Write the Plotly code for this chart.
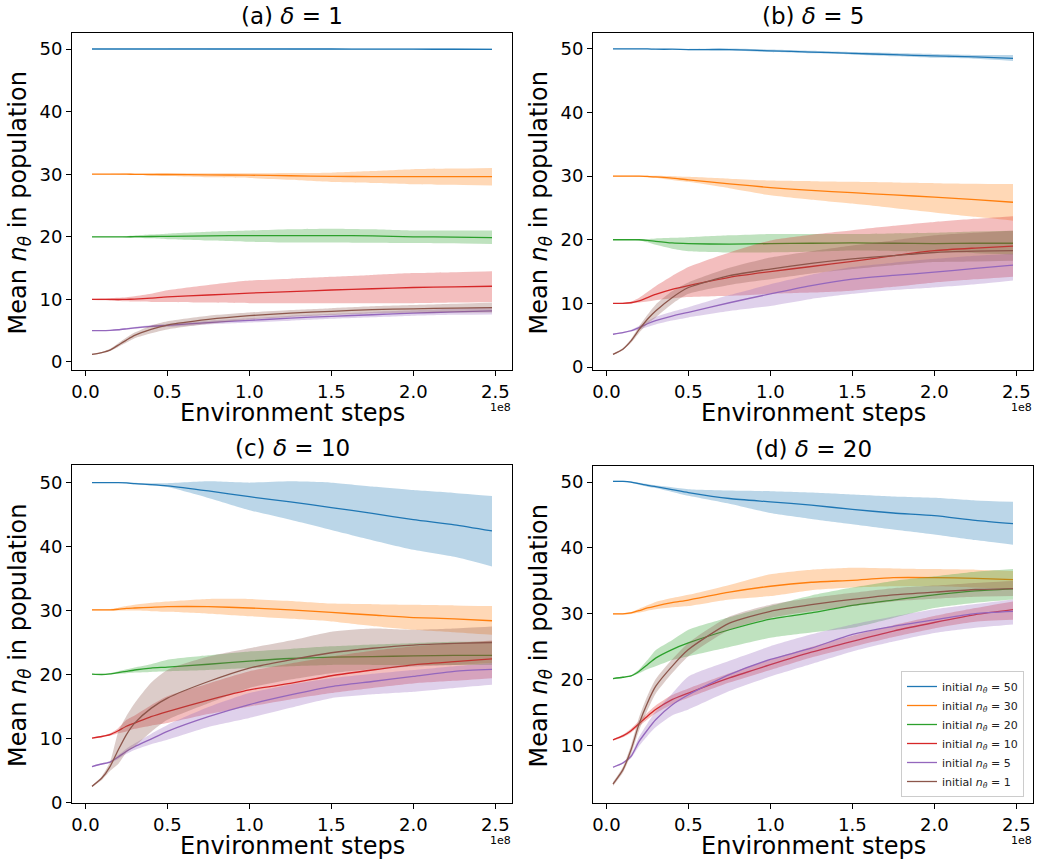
import plotly.graph_objects as go

# ---------------- data ----------------
STEPS = [0.04e8, 0.10e8, 0.15e8, 0.20e8, 0.25e8, 0.30e8, 0.40e8, 0.50e8,
         0.75e8, 1.00e8, 1.25e8, 1.50e8, 1.75e8, 2.00e8, 2.25e8, 2.48e8]

SERIES_LABELS = ["initial <i>n</i><sub><i>θ</i></sub> = 50", "initial <i>n</i><sub><i>θ</i></sub> = 30",
                 "initial <i>n</i><sub><i>θ</i></sub> = 20", "initial <i>n</i><sub><i>θ</i></sub> = 10",
                 "initial <i>n</i><sub><i>θ</i></sub> = 5", "initial <i>n</i><sub><i>θ</i></sub> = 1"]
COLORS = ["#1f77b4", "#ff7f0e", "#2ca02c", "#d62728", "#9467bd", "#8c564b"]
PANEL_TITLES = ["(a) <i>δ</i> = 1", "(b) <i>δ</i> = 5", "(c) <i>δ</i> = 10", "(d) <i>δ</i> = 20"]

# ---- panel (a) delta = 1 ----
a_n50_mean = [50.0, 50.0, 50.0, 50.0, 50.0, 50.0, 50.0, 50.0, 50.0, 50.0, 50.0, 50.0, 49.98, 49.97, 49.96, 49.95]
a_n50_lo   = [49.95, 49.95, 49.95, 49.95, 49.95, 49.95, 49.95, 49.95, 49.93, 49.92, 49.9, 49.9, 49.88, 49.87, 49.86, 49.85]
a_n50_hi   = [50.05, 50.05, 50.05, 50.05, 50.05, 50.05, 50.05, 50.05, 50.07, 50.08, 50.08, 50.08, 50.08, 50.08, 50.09, 50.1]
a_n30_mean = [30.0, 30.0, 30.0, 30.0, 30.0, 29.98, 29.95, 29.95, 29.9, 29.85, 29.75, 29.66, 29.62, 29.6, 29.6, 29.6]
a_n30_lo   = [29.95, 29.95, 29.95, 29.93, 29.9, 29.88, 29.8, 29.7, 29.5, 29.4, 29.1, 28.75, 28.6, 28.4, 28.3, 28.2]
a_n30_hi   = [30.05, 30.05, 30.05, 30.07, 30.1, 30.1, 30.12, 30.15, 30.15, 30.15, 30.2, 30.25, 30.5, 30.8, 30.9, 31.0]
a_n20_mean = [20.0, 20.0, 20.0, 20.0, 20.0, 20.02, 20.05, 20.07, 20.15, 20.2, 20.2, 20.2, 20.15, 20.0, 19.95, 19.86]
a_n20_lo   = [19.95, 19.95, 19.95, 19.95, 19.9, 19.85, 19.75, 19.6, 19.4, 19.2, 19.1, 19.1, 19.05, 19.0, 18.95, 18.85]
a_n20_hi   = [20.05, 20.05, 20.05, 20.05, 20.1, 20.2, 20.35, 20.5, 20.8, 21.0, 21.2, 21.3, 21.2, 21.0, 21.0, 21.0]
a_n10_mean = [10.0, 10.0, 10.0, 9.98, 10.0, 10.05, 10.2, 10.4, 10.7, 11.0, 11.25, 11.5, 11.7, 11.9, 12.0, 12.1]
a_n10_lo   = [9.9, 9.85, 9.8, 9.75, 9.7, 9.65, 9.6, 9.6, 9.5, 9.4, 9.4, 9.4, 9.4, 9.4, 9.5, 9.6]
a_n10_hi   = [10.1, 10.15, 10.2, 10.25, 10.35, 10.5, 10.9, 11.45, 12.3, 13.0, 13.3, 13.6, 13.9, 14.2, 14.35, 14.5]
a_n5_mean  = [5.0, 5.0, 5.05, 5.15, 5.3, 5.45, 5.7, 5.85, 6.3, 6.65, 7.0, 7.3, 7.55, 7.8, 8.0, 8.15]
a_n5_lo    = [4.95, 4.95, 5.0, 5.05, 5.15, 5.3, 5.5, 5.6, 6.0, 6.3, 6.6, 6.9, 7.15, 7.4, 7.55, 7.6]
a_n5_hi    = [5.05, 5.05, 5.1, 5.25, 5.45, 5.6, 5.9, 6.1, 6.6, 7.0, 7.4, 7.7, 8.0, 8.25, 8.55, 8.8]
a_n1_mean  = [1.2, 1.5, 1.9, 2.7, 3.5, 4.25, 5.2, 5.9, 6.8, 7.4, 7.8, 8.1, 8.35, 8.5, 8.6, 8.7]
a_n1_lo    = [1.1, 1.4, 1.75, 2.4, 3.1, 3.8, 4.6, 5.2, 6.1, 6.8, 7.2, 7.5, 7.75, 7.85, 7.9, 7.9]
a_n1_hi    = [1.3, 1.6, 2.1, 3.0, 3.9, 4.7, 5.8, 6.5, 7.4, 7.9, 8.3, 8.6, 8.9, 9.1, 9.3, 9.5]

# ---- panel (b) delta = 5 ----
b_n50_mean = [50.0, 50.0, 50.0, 50.0, 50.0, 49.95, 49.95, 49.9, 49.9, 49.7, 49.5, 49.3, 49.1, 48.9, 48.75, 48.5]
b_n50_lo   = [49.95, 49.95, 49.95, 49.95, 49.95, 49.9, 49.85, 49.8, 49.75, 49.5, 49.3, 49.1, 48.85, 48.6, 48.45, 48.1]
b_n50_hi   = [50.05, 50.05, 50.05, 50.05, 50.05, 50.0, 50.0, 50.0, 50.05, 49.9, 49.7, 49.5, 49.35, 49.2, 49.05, 49.05]
b_n30_mean = [30.0, 30.0, 30.0, 30.0, 29.95, 29.9, 29.7, 29.4, 28.8, 28.2, 27.75, 27.4, 27.05, 26.7, 26.3, 25.9]
b_n30_lo   = [29.95, 29.95, 29.95, 29.9, 29.8, 29.7, 29.4, 29.1, 28.1, 27.0, 26.3, 25.7, 25.0, 24.3, 23.6, 23.0]
b_n30_hi   = [30.05, 30.05, 30.05, 30.05, 30.05, 30.05, 30.0, 29.9, 29.6, 29.3, 29.2, 29.1, 29.0, 28.9, 28.8, 28.75]
b_n20_mean = [20.0, 20.0, 20.0, 20.0, 19.9, 19.75, 19.5, 19.4, 19.3, 19.4, 19.45, 19.5, 19.45, 19.4, 19.45, 19.45]
b_n20_lo   = [19.95, 19.95, 19.95, 19.9, 19.6, 19.2, 18.6, 18.2, 18.0, 18.0, 18.1, 18.3, 18.2, 18.1, 17.9, 17.7]
b_n20_hi   = [20.05, 20.05, 20.05, 20.1, 20.1, 20.2, 20.3, 20.4, 20.7, 20.9, 20.9, 20.9, 21.0, 21.1, 21.3, 21.4]
b_n10_mean = [10.0, 10.0, 10.1, 10.4, 10.9, 11.4, 12.2, 12.8, 14.1, 15.0, 15.8, 16.6, 17.5, 18.3, 18.7, 19.0]
b_n10_lo   = [9.95, 9.95, 10.0, 10.15, 10.3, 10.5, 10.8, 11.0, 11.2, 11.5, 11.7, 12.0, 12.6, 13.3, 13.8, 14.2]
b_n10_hi   = [10.05, 10.1, 10.3, 10.9, 11.8, 12.7, 14.3, 15.7, 18.0, 19.9, 20.8, 21.5, 22.2, 22.8, 23.3, 23.7]
b_n5_mean  = [5.15, 5.4, 5.7, 6.2, 6.8, 7.3, 8.0, 8.6, 10.1, 11.5, 12.8, 13.8, 14.4, 14.9, 15.5, 16.0]
b_n5_lo    = [5.1, 5.3, 5.55, 5.9, 6.3, 6.7, 7.3, 7.8, 8.8, 9.6, 10.7, 11.5, 12.1, 12.5, 13.0, 13.6]
b_n5_hi    = [5.2, 5.5, 5.85, 6.5, 7.2, 7.9, 8.7, 9.4, 11.3, 13.0, 14.5, 15.7, 16.4, 17.0, 17.5, 17.8]
b_n1_mean  = [2.0, 2.8, 4.1, 5.9, 7.5, 8.8, 10.9, 12.5, 14.35, 15.4, 16.3, 17.0, 17.5, 18.0, 18.2, 18.3]
b_n1_lo    = [1.9, 2.65, 3.8, 5.4, 6.8, 7.8, 9.9, 11.5, 12.9, 13.8, 14.7, 15.4, 16.0, 16.5, 16.6, 16.7]
b_n1_hi    = [2.1, 2.95, 4.4, 6.4, 8.2, 9.8, 11.9, 13.3, 15.6, 17.2, 18.2, 19.1, 19.9, 20.7, 21.1, 21.4]

# ---- panel (c) delta = 10 ----
c_n50_mean = [50.0, 50.0, 50.0, 50.0, 49.95, 49.85, 49.7, 49.5, 48.7, 47.8, 47.0, 46.1, 45.2, 44.2, 43.4, 42.45]
c_n50_lo   = [49.95, 49.95, 49.95, 49.95, 49.9, 49.75, 49.55, 49.3, 47.6, 45.7, 44.2, 42.6, 41.0, 39.5, 38.4, 36.9]
c_n50_hi   = [50.05, 50.05, 50.05, 50.05, 50.05, 50.0, 49.9, 49.9, 50.2, 50.0, 50.2, 50.0, 49.4, 48.85, 48.4, 47.9]
c_n30_mean = [30.1, 30.1, 30.1, 30.2, 30.35, 30.4, 30.5, 30.6, 30.6, 30.4, 30.1, 29.7, 29.3, 28.9, 28.7, 28.4]
c_n30_lo   = [30.0, 30.0, 30.0, 30.0, 30.0, 30.0, 29.9, 29.8, 29.5, 29.1, 28.7, 28.3, 27.6, 27.0, 26.6, 26.2]
c_n30_hi   = [30.2, 30.2, 30.25, 30.45, 30.7, 30.9, 31.2, 31.4, 31.8, 31.8, 31.5, 31.1, 31.0, 30.9, 30.8, 30.7]
c_n20_mean = [20.05, 20.0, 20.1, 20.3, 20.5, 20.7, 21.0, 21.15, 21.6, 22.1, 22.5, 22.7, 22.8, 22.9, 23.0, 23.0]
c_n20_lo   = [20.0, 19.95, 20.0, 20.1, 20.2, 20.3, 20.4, 20.5, 20.7, 21.0, 21.3, 21.5, 21.5, 21.5, 21.5, 21.5]
c_n20_hi   = [20.1, 20.05, 20.2, 20.5, 20.8, 21.1, 21.6, 22.3, 23.0, 23.6, 24.0, 24.4, 24.7, 24.9, 25.1, 25.2]
c_n10_mean = [10.05, 10.3, 10.6, 11.2, 11.9, 12.4, 13.4, 14.2, 16.0, 17.6, 18.6, 19.8, 20.7, 21.5, 22.0, 22.45]
c_n10_lo   = [10.0, 10.2, 10.4, 10.8, 11.1, 11.5, 12.0, 12.4, 13.8, 15.0, 16.1, 17.1, 17.9, 18.6, 19.0, 19.4]
c_n10_hi   = [10.1, 10.4, 10.8, 11.6, 12.9, 13.6, 15.2, 16.6, 18.6, 20.5, 21.7, 22.8, 23.7, 24.4, 24.9, 25.3]
c_n5_mean  = [5.6, 6.0, 6.3, 7.1, 8.0, 8.7, 9.9, 11.1, 13.4, 15.3, 16.8, 18.1, 18.9, 19.7, 20.5, 20.8]
c_n5_lo    = [5.5, 5.9, 6.15, 6.8, 7.6, 8.2, 9.1, 9.8, 11.8, 13.2, 14.8, 16.3, 16.9, 17.3, 17.9, 18.4]
c_n5_hi    = [5.7, 6.1, 6.45, 7.4, 8.4, 9.2, 10.7, 12.1, 14.9, 17.1, 18.4, 19.4, 20.1, 20.7, 21.3, 21.8]
c_n1_mean  = [2.5, 3.8, 5.6, 8.2, 10.6, 12.4, 14.7, 16.3, 18.9, 21.0, 22.3, 23.4, 24.1, 24.6, 24.85, 25.0]
c_n1_lo    = [2.4, 3.5, 4.9, 6.0, 7.8, 8.75, 11.0, 12.9, 15.5, 17.9, 19.2, 20.2, 20.8, 21.25, 21.5, 21.8]
c_n1_hi    = [2.6, 4.1, 6.3, 11.0, 13.5, 15.5, 18.7, 20.7, 22.8, 24.1, 25.3, 26.7, 27.2, 27.0, 27.2, 27.5]

# ---- panel (d) delta = 20 ----
d_n50_mean = [50.1, 50.1, 50.0, 49.75, 49.5, 49.3, 48.85, 48.4, 47.5, 47.0, 46.5, 45.85, 45.3, 44.9, 44.2, 43.7]
d_n50_lo   = [50.0, 50.0, 49.9, 49.6, 49.3, 49.1, 48.5, 47.9, 46.7, 45.3, 44.4, 43.6, 42.8, 42.05, 41.2, 40.5]
d_n50_hi   = [50.2, 50.2, 50.1, 49.9, 49.7, 49.5, 49.2, 48.9, 48.7, 48.6, 48.4, 48.1, 47.8, 47.6, 47.2, 47.0]
d_n30_mean = [30.0, 30.0, 30.15, 30.5, 30.9, 31.2, 31.7, 32.1, 33.3, 34.2, 34.8, 35.1, 35.5, 35.5, 35.4, 35.2]
d_n30_lo   = [29.9, 29.9, 30.0, 30.2, 30.5, 30.7, 31.0, 31.2, 32.2, 32.7, 33.6, 34.0, 34.2, 34.2, 34.0, 33.8]
d_n30_hi   = [30.1, 30.1, 30.3, 30.8, 31.3, 31.8, 32.4, 32.9, 34.4, 36.0, 36.7, 37.0, 36.9, 36.8, 36.7, 36.5]
d_n20_mean = [20.2, 20.4, 20.6, 21.3, 22.3, 23.3, 24.6, 25.6, 27.6, 29.2, 30.15, 31.3, 32.1, 32.9, 33.5, 33.8]
d_n20_lo   = [20.1, 20.3, 20.5, 21.0, 21.6, 22.05, 23.0, 23.6, 25.0, 26.4, 27.2, 27.9, 29.4, 30.9, 31.7, 32.2]
d_n20_hi   = [20.3, 20.5, 20.7, 21.6, 23.0, 24.5, 26.0, 27.6, 29.5, 31.2, 32.8, 34.0, 35.0, 35.7, 36.4, 36.8]
d_n10_mean = [10.9, 11.5, 12.3, 13.4, 14.5, 15.5, 17.0, 18.0, 20.3, 22.3, 24.2, 25.85, 27.4, 28.7, 29.9, 30.65]
d_n10_lo   = [10.8, 11.3, 12.0, 13.0, 14.0, 14.9, 16.3, 17.3, 19.6, 21.5, 23.4, 25.0, 26.5, 27.8, 28.8, 29.1]
d_n10_hi   = [11.0, 11.7, 12.6, 13.8, 15.0, 16.1, 17.7, 18.7, 21.0, 23.1, 25.0, 26.7, 28.3, 29.7, 30.9, 31.9]
d_n5_mean  = [6.75, 7.4, 8.4, 10.7, 12.4, 13.95, 16.2, 17.75, 20.8, 23.1, 24.8, 26.9, 28.1, 29.1, 30.05, 30.4]
d_n5_lo    = [6.65, 7.25, 8.1, 10.0, 11.5, 12.8, 14.6, 15.5, 18.3, 20.5, 22.4, 24.3, 25.8, 27.1, 27.9, 28.4]
d_n5_hi    = [6.85, 7.55, 8.7, 11.4, 13.4, 15.2, 17.9, 20.5, 22.9, 25.1, 26.9, 28.4, 29.6, 30.7, 31.5, 32.2]
d_n1_mean  = [4.2, 6.35, 9.4, 13.4, 16.5, 19.0, 22.05, 24.6, 28.6, 30.4, 31.4, 32.2, 32.9, 33.3, 33.7, 33.85]
d_n1_lo    = [3.9, 5.9, 8.7, 12.4, 15.4, 17.9, 21.0, 23.6, 27.6, 29.4, 30.4, 31.2, 31.9, 32.3, 32.6, 32.7]
d_n1_hi    = [4.5, 6.8, 10.1, 14.4, 17.6, 20.1, 23.1, 25.6, 29.6, 31.4, 32.4, 33.2, 33.9, 34.3, 34.7, 35.0]

PANELS = [
    [(a_n50_mean, a_n50_lo, a_n50_hi), (a_n30_mean, a_n30_lo, a_n30_hi), (a_n20_mean, a_n20_lo, a_n20_hi),
     (a_n10_mean, a_n10_lo, a_n10_hi), (a_n5_mean, a_n5_lo, a_n5_hi), (a_n1_mean, a_n1_lo, a_n1_hi)],
    [(b_n50_mean, b_n50_lo, b_n50_hi), (b_n30_mean, b_n30_lo, b_n30_hi), (b_n20_mean, b_n20_lo, b_n20_hi),
     (b_n10_mean, b_n10_lo, b_n10_hi), (b_n5_mean, b_n5_lo, b_n5_hi), (b_n1_mean, b_n1_lo, b_n1_hi)],
    [(c_n50_mean, c_n50_lo, c_n50_hi), (c_n30_mean, c_n30_lo, c_n30_hi), (c_n20_mean, c_n20_lo, c_n20_hi),
     (c_n10_mean, c_n10_lo, c_n10_hi), (c_n5_mean, c_n5_lo, c_n5_hi), (c_n1_mean, c_n1_lo, c_n1_hi)],
    [(d_n50_mean, d_n50_lo, d_n50_hi), (d_n30_mean, d_n30_lo, d_n30_hi), (d_n20_mean, d_n20_lo, d_n20_hi),
     (d_n10_mean, d_n10_lo, d_n10_hi), (d_n5_mean, d_n5_lo, d_n5_hi), (d_n1_mean, d_n1_lo, d_n1_hi)],
]

X_TICKVALS = [0, 0.5e8, 1.0e8, 1.5e8, 2.0e8, 2.5e8]
X_TICKTEXT = ["0.0", "0.5", "1.0", "1.5", "2.0", "2.5"]

# ---------------- layout geometry (page pixels) ----------------
W, H = 1037, 861
FONT = "DejaVu Sans"
# (x0, x1, ytop, ybottom, yrange) in page pixels
BOXES = [
    (72, 512, 33, 370, [-1.28, 52.56]),
    (593, 1033, 33, 370, [-0.47, 52.5]),
    (72, 512, 465, 803, [-0.1, 52.76]),
    (593, 1033, 466, 803, [1.33, 52.43]),
]


def fx(p):
    return p / W


def fy(p):
    return 1 - p / H


def hex_rgba(h, a):
    h = h.lstrip("#")
    return "rgba(%d,%d,%d,%.2f)" % (int(h[0:2], 16), int(h[2:4], 16), int(h[4:6], 16), a)


fig = go.Figure()
annotations = []
layout_axes = {}

for i, (series, box) in enumerate(zip(PANELS, BOXES)):
    x0, x1, yt, yb, yr = box
    n = "" if i == 0 else str(i + 1)
    xa, ya = "x" + n, "y" + n
    for j, (mean, lo, hi) in enumerate(series):
        col = COLORS[j]
        fig.add_trace(go.Scatter(x=STEPS, y=lo, mode="lines", line=dict(width=0, color=col, shape="spline", smoothing=0.6),
                                 showlegend=False, hoverinfo="skip", xaxis=xa, yaxis=ya))
        fig.add_trace(go.Scatter(x=STEPS, y=hi, mode="lines", line=dict(width=0, color=col, shape="spline", smoothing=0.6),
                                 fill="tonexty", fillcolor=hex_rgba(col, 0.3),
                                 showlegend=False, hoverinfo="skip", xaxis=xa, yaxis=ya))
        fig.add_trace(go.Scatter(x=STEPS, y=mean, mode="lines", name=SERIES_LABELS[j],
                                 line=dict(width=1.3, color=col, shape="spline", smoothing=0.6),
                                 showlegend=(i == 3), xaxis=xa, yaxis=ya))
    axcommon = dict(showline=True, linecolor="black", linewidth=1, mirror=True, ticks="outside",
                    ticklen=5, tickwidth=1, tickcolor="black", showgrid=False, zeroline=False,
                    automargin=False, tickfont=dict(family=FONT, size=18, color="black"))
    layout_axes["xaxis" + n] = dict(domain=[fx(x0), fx(x1)], anchor=ya, range=[-0.082e8, 2.602e8],
                                    tickvals=X_TICKVALS, ticktext=X_TICKTEXT, **axcommon)
    layout_axes["yaxis" + n] = dict(domain=[fy(yb), fy(yt)], anchor=xa, range=yr,
                                    tickmode="linear", tick0=0, dtick=10, **axcommon)
    cx = (x0 + x1) / 2
    # panel title
    annotations.append(dict(text=PANEL_TITLES[i], x=fx(cx), y=fy(yt - 17), xref="paper", yref="paper",
                            showarrow=False, xanchor="center", yanchor="middle",
                            font=dict(family=FONT, size=23, color="black")))
    # x axis title
    annotations.append(dict(text="Environment steps", x=fx(cx), y=fy(yb + 43), xref="paper", yref="paper",
                            showarrow=False, xanchor="center", yanchor="middle",
                            font=dict(family=FONT, size=24, color="black")))
    # offset text
    annotations.append(dict(text="1e8", x=fx(x1 + 1), y=fy(yb + 37), xref="paper", yref="paper",
                            showarrow=False, xanchor="right", yanchor="middle",
                            font=dict(family=FONT, size=11, color="black")))
    # y axis title
    annotations.append(dict(text="Mean <i>n</i><sub><i>θ</i></sub> in population", x=fx(x0 - 53),
                            y=fy((yt + yb) / 2 + 2), xref="paper", yref="paper", textangle=-90,
                            showarrow=False, xanchor="center", yanchor="middle",
                            font=dict(family=FONT, size=24, color="black")))

fig.update_layout(
    width=W, height=H, margin=dict(l=0, r=0, t=0, b=0, pad=0, autoexpand=False),
    paper_bgcolor="white", plot_bgcolor="white",
    font=dict(family=FONT, color="black"),
    annotations=annotations,
    legend=dict(x=fx(901), y=fy(797), xanchor="left", yanchor="bottom", traceorder="normal",
                bgcolor="rgba(255,255,255,0.8)", bordercolor="#cccccc", borderwidth=1,
                font=dict(family=FONT, size=11, color="#222222"), tracegroupgap=0, itemwidth=30),
    **layout_axes,
)

# remove the browser's default page margin so the figure sits at the page origin
fig.write_html("out.html", config={"displayModeBar": False},
               post_script="document.body.style.margin='0';document.body.style.padding='0';")
